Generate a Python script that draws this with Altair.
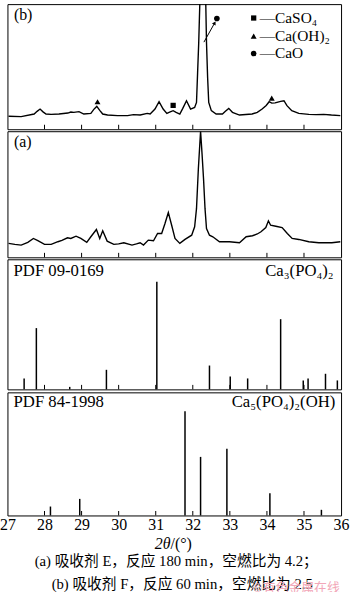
import altair as alt
import pandas as pd

# ---------------- data ----------------
B_T = [27.03, 27.37, 27.72, 27.80, 27.88, 27.96, 28.04, 28.18, 28.39, 28.63,
       28.71, 28.79, 28.93, 29.06, 29.25, 29.33, 29.41, 29.49, 29.57, 29.70,
       29.97, 30.24, 30.40, 30.58, 30.77, 30.85, 30.98, 31.09, 31.20, 31.30,
       31.39, 31.47, 31.55, 31.65, 31.73, 31.83, 31.94, 32.05, 32.10, 32.13,
       32.16, 32.19, 32.27, 32.35, 32.37, 32.40, 32.43, 32.50, 32.63, 32.80,
       32.88, 32.97, 33.07, 33.26, 33.60, 33.74, 33.87, 33.98, 34.06, 34.13,
       34.22, 34.27, 34.37, 34.46, 34.54, 34.67, 34.86, 35.13, 35.32, 35.53,
       35.74, 35.98]
B_I = [13, 12.7, 15.3, 18, 20.3, 17.5, 15.3, 15, 15.3, 16.3,
       17.3, 17, 17.7, 15.3, 16, 20, 23, 19, 15.3, 14.3,
       13.7, 13.7, 14.7, 14.3, 16, 15.3, 20.3, 27.7, 20.3, 16,
       17.5, 18.7, 17, 15.3, 21, 28.7, 20.3, 22, 27, 57,
       87, 127, 187, 127, 87, 52, 27, 18.7, 15.3, 15.3,
       18, 21, 17, 14.3, 15.3, 17, 20.3, 24, 27.7, 26.3,
       26.5, 27, 28, 28.7, 23.7, 18.7, 16, 15, 14.7, 15,
       14.3, 13.7]

A_T = [27.03, 27.20, 27.37, 27.55, 27.70, 27.82, 28.00, 28.18, 28.36, 28.47,
       28.62, 28.71, 28.85, 28.98, 29.14, 29.25, 29.40, 29.49, 29.57, 29.69,
       29.87, 30.00, 30.14, 30.36, 30.48, 30.58, 30.67, 30.80, 30.94, 31.05,
       31.16, 31.25, 31.34, 31.43, 31.52, 31.65, 31.79, 31.97, 32.05, 32.10,
       32.15, 32.21, 32.25, 32.29, 32.33, 32.37, 32.45, 32.54, 32.72, 32.99,
       33.26, 33.44, 33.61, 33.74, 33.84, 33.97, 34.04, 34.10, 34.24, 34.41,
       34.55, 34.68, 34.86, 35.13, 35.40, 35.75, 35.98]
A_I = [14, 13, 12.3, 15, 19, 16.7, 13, 13, 15.7, 17,
       19.7, 19, 21.3, 19, 15, 20.7, 28, 19, 26.7, 16.3,
       13, 13.5, 14.7, 12.3, 13.5, 14.7, 12.3, 17.3, 16.7, 24,
       24, 34, 45, 32.3, 19, 14, 18, 22.3, 30.7, 49,
       89, 127, 104, 79, 49, 29, 22.3, 20.7, 15.7, 15.7,
       14.7, 20.7, 21.7, 23.5, 25.7, 30, 36.7, 32.3, 31.3, 30,
       24, 19, 18, 15.7, 14.7, 14.7, 15.7]

P1_T = [27.45, 27.78, 28.68, 29.67, 31.03, 32.45, 33.01, 33.48, 34.37, 34.98, 35.11, 35.58, 35.90]
P1_I = [11, 61.7, 2.5, 19.7, 108.3, 24, 13, 11, 70.7, 9, 11, 15.7, 9]

P2_T = [28.16, 28.95, 31.79, 32.21, 32.92, 34.08, 35.47]
P2_I = [9, 16.7, 105, 59, 67.3, 22.3, 5.7]

TICKS = [28, 29, 30, 31, 32, 33, 34, 35]
LABELS = [27, 28, 29, 30, 31, 32, 33, 34, 35, 36]

SQ_T, SQ_I = [31.47], [24]
TRI_T, TRI_I = [29.43, 34.13], [27.7, 31.3]
CIR_T, CIR_I = [32.65], [111.5]
ARROW = {"t0": [32.30], "i0": [87.7], "t1": [32.59], "i1": [107]}

LEGEND = ["—CaSO₄", "—Ca(OH)₂", "—CaO"]
CAPTION1 = "(a) 吸收剂 E，反应 180 min，空燃比为 4.2；"
CAPTION2 = "(b) 吸收剂 F，反应 60 min，空燃比为 2.5"
WATERMARK = "©有色金属在线"

# ---------------- layout ----------------
FONT = "Liberation Serif, DejaVu Serif, Noto Sans CJK SC"
W = 336
H_B, H_A, H_P1, H_P2 = 126, 127, 131, 124
XDOM = alt.Scale(domain=[27, 36], nice=False, zero=False)


def xq(field, axis=None):
    return alt.X(f"{field}:Q", scale=XDOM, axis=axis)


def yq(field, h):
    return alt.Y(f"{field}:Q", scale=alt.Scale(domain=[0, h], nice=False, zero=True), axis=None)


def tick_layer(h, axis=None):
    return alt.Chart(pd.DataFrame({"t": TICKS})).mark_rule(color="black", strokeWidth=1).encode(
        x=xq("t", axis), y=alt.value(h), y2=alt.value(h - 4.5))


def label(text, x, y, align="left", size=15, **kw):
    return alt.Chart(pd.DataFrame({"s": [text]})).mark_text(
        align=align, baseline="alphabetic", font=FONT, fontSize=size, color="black", **kw
    ).encode(x=alt.value(x), y=alt.value(y), text="s:N")


# panel (b)
df_b = pd.DataFrame({"t": B_T, "i": B_I})
line_b = alt.Chart(df_b).mark_line(color="black", strokeWidth=1.4, clip=True).encode(
    x=xq("t"), y=yq("i", H_B))
sq = alt.Chart(pd.DataFrame({"t": SQ_T, "i": SQ_I})).mark_point(
    shape="square", filled=True, size=28, color="black", opacity=1).encode(x=xq("t"), y=yq("i", H_B))
tri = alt.Chart(pd.DataFrame({"t": TRI_T, "i": TRI_I})).mark_point(
    shape="triangle-up", filled=True, size=36, color="black", opacity=1).encode(x=xq("t"), y=yq("i", H_B))
cir = alt.Chart(pd.DataFrame({"t": CIR_T, "i": CIR_I})).mark_point(
    shape="circle", filled=True, size=32, color="black", opacity=1).encode(x=xq("t"), y=yq("i", H_B))
df_ar = pd.DataFrame(ARROW)
arrow = alt.Chart(df_ar).mark_rule(color="black", strokeWidth=1).encode(
    x=xq("t0"), x2="t1:Q", y=yq("i0", H_B), y2="i1:Q")
arrow_head = alt.Chart(df_ar).mark_point(
    shape="triangle-up", angle=29, filled=True, size=18, color="black", opacity=1).encode(
    x=xq("t1"), y=yq("i1", H_B))

leg_sq = alt.Chart(pd.DataFrame({"a": [0]})).mark_point(
    shape="square", filled=True, size=28, color="black", opacity=1).encode(x=alt.value(248), y=alt.value(14))
leg_tri = alt.Chart(pd.DataFrame({"a": [0]})).mark_point(
    shape="triangle-up", filled=True, size=36, color="black", opacity=1).encode(x=alt.value(248), y=alt.value(32.3))
leg_cir = alt.Chart(pd.DataFrame({"a": [0]})).mark_point(
    shape="circle", filled=True, size=32, color="black", opacity=1).encode(x=alt.value(248), y=alt.value(49.7))

panel_b = alt.layer(
    line_b, tick_layer(H_B), sq, tri, cir, arrow, arrow_head,
    leg_sq, leg_tri, leg_cir,
    label(LEGEND[0], 254, 19.5, size=15.5),
    label(LEGEND[1], 254, 37, size=15.5),
    label(LEGEND[2], 254, 54.5, size=15.5),
    label("(b)", 6.5, 15.7, size=16),
).properties(width=W, height=H_B)

# panel (a)
df_a = pd.DataFrame({"t": A_T, "i": A_I})
line_a = alt.Chart(df_a).mark_line(color="black", strokeWidth=1.4, clip=True).encode(
    x=xq("t"), y=yq("i", H_A))
panel_a = alt.layer(
    line_a, tick_layer(H_A), label("(a)", 6.5, 16.3, size=16)
).properties(width=W, height=H_A)

# panel PDF 09-0169
df_p1 = pd.DataFrame({"t": P1_T, "i": P1_I})
sticks1 = alt.Chart(df_p1).mark_rule(color="black", strokeWidth=1.5).encode(
    x=xq("t"), y=yq("i", H_P1), y2=alt.datum(0))
panel_p1 = alt.layer(
    sticks1, tick_layer(H_P1),
    label("PDF 09-0169", 6.2, 16.7, size=16.8),
    label("Ca₃(PO₄)₂", 328.5, 16.7, align="right", size=16.8),
).properties(width=W, height=H_P1)

# panel PDF 84-1998 with bottom axis
AX = alt.Axis(values=LABELS, format="d", ticks=False, tickSize=0, domain=False, grid=False,
              labelFont=FONT, labelFontSize=16, labelColor="black", labelPadding=1,
              title=None, labelFlush=False)
df_p2 = pd.DataFrame({"t": P2_T, "i": P2_I})
sticks2 = alt.Chart(df_p2).mark_rule(color="black", strokeWidth=1.5).encode(
    x=xq("t", AX), y=yq("i", H_P2), y2=alt.datum(0))
panel_p2 = alt.layer(
    sticks2, tick_layer(H_P2, AX),
    label("PDF 84-1998", 6.2, 15, size=16.8),
    label("Ca₅(PO₄)₂(OH)", 330.2, 15, align="right", size=16.8),
    label("2θ", 164.2, 157.5, align="right", size=16, fontStyle="italic"),
    label("/(°)", 164.2, 157.5, align="left", size=16),
    label(CAPTION1, 170, 175, align="center", size=14.8),
    label(CAPTION2, 176, 198.5, align="center", size=14.8),
    alt.Chart(pd.DataFrame({"s": [WATERMARK]})).mark_text(
        align="left", baseline="alphabetic", font=FONT, fontSize=13, color="#f2a7b8"
    ).encode(x=alt.value(247), y=alt.value(201), text="s:N"),
).properties(width=W, height=H_P2)

chart = alt.vconcat(panel_b, panel_a, panel_p1, panel_p2, spacing=0).configure_view(
    stroke="black", strokeWidth=1
).properties(
    padding={"left": -1.5, "top": 1, "right": 0, "bottom": 4},
    background="white",
)

chart.save("out.html", embed_options={"renderer": "svg", "actions": False})
